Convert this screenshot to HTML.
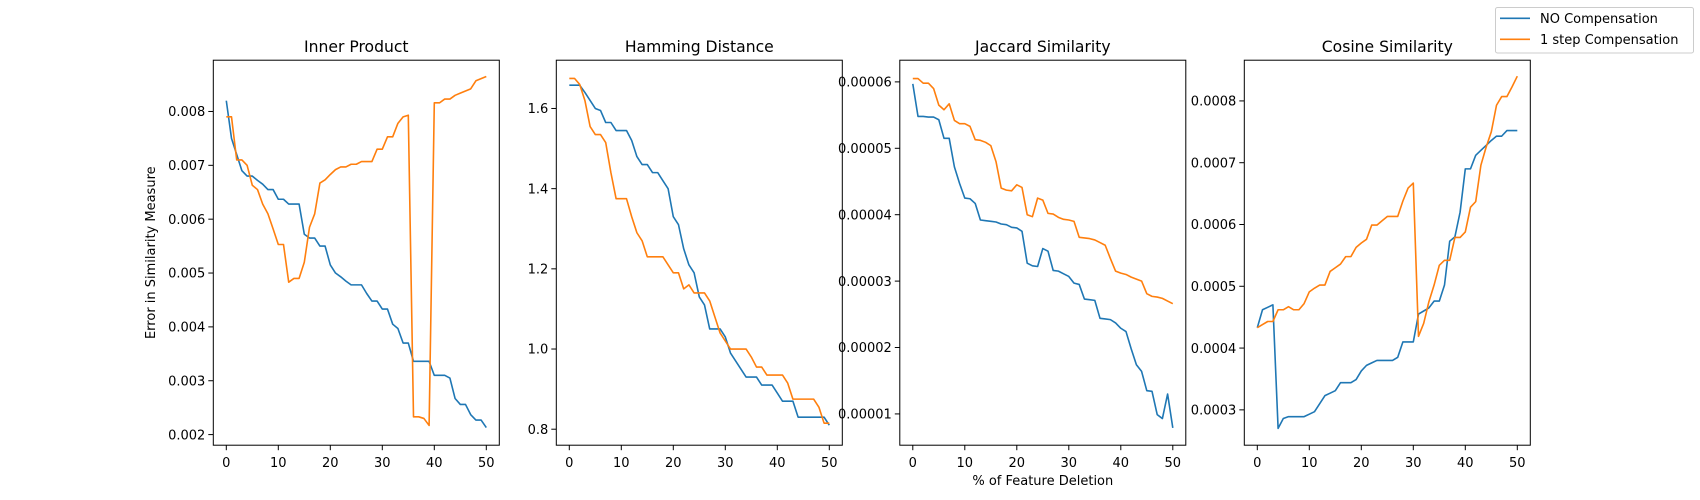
<!DOCTYPE html>
<html><head><meta charset="utf-8"><style>
html,body{margin:0;padding:0;background:#fff;}
svg{display:block;font-family:"DejaVu Sans","Liberation Sans",sans-serif;}
</style></head><body>
<svg id="chart" width="1700" height="500" viewBox="0 0 1700 500" xmlns="http://www.w3.org/2000/svg"></svg>
<script>
const xs = Array.from({length:51},(_,i)=>i);
const xTicks = [0,10,20,30,40,50];
const titles = ["Inner Product","Hamming Distance","Jaccard Similarity","Cosine Similarity"];
const ipBlue = [.0082,.0075,.0072,.0069,.0068,.0068,.00672,.00665,.00655,.00655,.00637,.00637,.00628,.00628,.00628,.00572,.00565,.00565,.0055,.0055,.00515,.005,.00493,.00485,.00478,.00478,.00478,.00462,.00448,.00448,.00433,.00433,.00405,.00397,.0037,.0037,.00336,.00336,.00336,.00336,.0031,.0031,.0031,.00305,.00267,.00256,.00256,.00237,.00227,.00227,.00213];
const ipOrange = [.0079,.0079,.0071,.0071,.0070,.00663,.00655,.00628,.0061,.00582,.00553,.00553,.00483,.0049,.0049,.0052,.00585,.0061,.00667,.00673,.00683,.00692,.00697,.00697,.00702,.00702,.00707,.00707,.00707,.0073,.0073,.00753,.00753,.00778,.0079,.00793,.00233,.00233,.0023,.00217,.00816,.00816,.00823,.00823,.0083,.00834,.00838,.00842,.00857,.00861,.00865];
const hdBlue = [1.658,1.658,1.658,1.64,1.62,1.60,1.595,1.565,1.565,1.545,1.545,1.545,1.52,1.48,1.46,1.46,1.44,1.44,1.42,1.40,1.33,1.31,1.25,1.21,1.19,1.13,1.11,1.05,1.05,1.05,1.03,0.99,0.97,0.95,0.93,0.93,0.93,0.91,0.91,0.91,0.89,0.87,0.87,0.87,0.83,0.83,0.83,0.83,0.83,0.83,0.81];
const hdOrange = [1.675,1.675,1.66,1.62,1.555,1.535,1.535,1.515,1.44,1.375,1.375,1.375,1.33,1.29,1.27,1.23,1.23,1.23,1.23,1.21,1.19,1.19,1.15,1.16,1.14,1.14,1.14,1.12,1.08,1.04,1.02,1.0,1.0,1.0,1.0,0.98,0.955,0.955,0.935,0.935,0.935,0.935,0.915,0.875,0.875,0.875,0.875,0.875,0.855,0.815,0.815];
const jsBlue = [5.97,5.48,5.48,5.47,5.47,5.43,5.15,5.15,4.72,4.47,4.25,4.24,4.17,3.92,3.91,3.9,3.89,3.86,3.85,3.81,3.8,3.75,3.27,3.23,3.22,3.49,3.45,3.16,3.15,3.11,3.07,2.97,2.95,2.73,2.72,2.71,2.44,2.43,2.42,2.37,2.29,2.24,1.98,1.74,1.64,1.35,1.34,0.99,0.93,1.3,0.79].map(v=>v*1e-5);
const jsOrange = [6.05,6.05,5.98,5.98,5.9,5.65,5.58,5.67,5.42,5.37,5.37,5.33,5.13,5.12,5.09,5.04,4.8,4.4,4.37,4.36,4.45,4.41,4.0,3.97,4.25,4.22,4.02,4.01,3.96,3.93,3.92,3.9,3.66,3.65,3.64,3.62,3.58,3.54,3.34,3.15,3.12,3.1,3.06,3.03,3.0,2.81,2.77,2.76,2.74,2.7,2.66].map(v=>v*1e-5);
const csBlue = [4.33,4.62,4.66,4.7,2.7,2.86,2.89,2.89,2.89,2.89,2.93,2.97,3.1,3.23,3.27,3.31,3.44,3.44,3.44,3.49,3.63,3.72,3.76,3.8,3.8,3.8,3.8,3.85,4.1,4.1,4.1,4.55,4.6,4.65,4.76,4.76,5.02,5.73,5.8,6.2,6.9,6.9,7.12,7.2,7.28,7.36,7.43,7.43,7.52,7.52,7.52].map(v=>v*1e-4);
const csOrange = [4.33,4.38,4.43,4.43,4.62,4.62,4.67,4.62,4.62,4.72,4.91,4.97,5.02,5.02,5.24,5.3,5.36,5.48,5.48,5.63,5.7,5.76,5.99,5.99,6.06,6.13,6.13,6.13,6.38,6.59,6.67,4.19,4.4,4.75,5.02,5.34,5.42,5.42,5.79,5.79,5.88,6.28,6.37,6.96,7.25,7.5,7.93,8.07,8.07,8.23,8.4].map(v=>v*1e-4);
const ipTicks = [0.002,0.003,0.004,0.005,0.006,0.007,0.008];
const ipTickLabels = ["0.002","0.003","0.004","0.005","0.006","0.007","0.008"];
const hdTicks = [0.8,1.0,1.2,1.4,1.6];
const hdTickLabels = ["0.8","1.0","1.2","1.4","1.6"];
const jsTicks = [1e-5,2e-5,3e-5,4e-5,5e-5,6e-5];
const jsTickLabels = ["0.00001","0.00002","0.00003","0.00004","0.00005","0.00006"];
const csTicks = [3e-4,4e-4,5e-4,6e-4,7e-4,8e-4];
const csTickLabels = ["0.0003","0.0004","0.0005","0.0006","0.0007","0.0008"];

const NS="http://www.w3.org/2000/svg";
const svg=document.getElementById('chart');
function mk(tag,attrs,parent){const e=document.createElementNS(NS,tag);for(const k in attrs)e.setAttribute(k,attrs[k]);(parent||svg).appendChild(e);return e;}
const panels=[
 {left:213.3,title:titles[0],blue:ipBlue,orange:ipOrange,ymin:0.001803,ymax:0.008952,ticks:ipTicks,labels:ipTickLabels,name:'inner-product'},
 {left:556.3,title:titles[1],blue:hdBlue,orange:hdOrange,ymin:0.7601,ymax:1.7204,ticks:hdTicks,labels:hdTickLabels,name:'hamming-distance'},
 {left:899.8,title:titles[2],blue:jsBlue,orange:jsOrange,ymin:0.529e-5,ymax:6.3265e-5,ticks:jsTicks,labels:jsTickLabels,name:'jaccard-similarity'},
 {left:1244.3,title:titles[3],blue:csBlue,orange:csOrange,ymin:0.0002428,ymax:0.0008659,ticks:csTicks,labels:csTickLabels,name:'cosine-similarity'}
];
const W=286,TOP=60.2,BOT=445.2;
panels.forEach(p=>{
 const g=mk('g',{});
 
 
 const xS=v=>p.left+W*(0.5+v*5.2)/(W) ;
 const X=v=>p.left+13+v*5.2;
 const Y=v=>BOT-(v-p.ymin)/(p.ymax-p.ymin)*(BOT-TOP);
 // series
 [['blue','#1f77b4'],['orange','#ff7f0e']].forEach(([k,c])=>{
  const d=p[k].map((v,i)=>(i?'L':'M')+X(xs[i]).toFixed(2)+' '+Y(v).toFixed(2)).join(' ');
  const path=mk('path',{d:d,fill:'none',stroke:c,'stroke-width':1.6,'stroke-linejoin':'round'},g);
  
  
 });
 const fr=mk('rect',{x:p.left,y:TOP,width:W,height:BOT-TOP,fill:'none',stroke:'#000','stroke-width':1},g);
 
 
 xTicks.forEach(t=>{
  const x=X(t);
  mk('line',{x1:x,y1:BOT,x2:x,y2:BOT+5,stroke:'#000','stroke-width':1},g);
  const tx=mk('text',{x:x,y:467,'font-size':13,'text-anchor':'middle',fill:'#000'},g);
  tx.textContent=t;
  
  
 });
 p.ticks.forEach((t,i)=>{
  const y=Y(t);
  mk('line',{x1:p.left-5,y1:y,x2:p.left,y2:y,stroke:'#000','stroke-width':1},g);
  const tx=mk('text',{x:p.left-8,y:y+4.7,'font-size':13,'text-anchor':'end',fill:'#000'},g);
  tx.textContent=p.labels[i];
  
  
 });
 const tt=mk('text',{x:p.left+W/2,y:52,'font-size':15.6,'text-anchor':'middle',fill:'#000'},g);
 tt.textContent=p.title;
 
 
});
const yl=mk('text',{x:0,y:0,'font-size':13,'text-anchor':'middle',fill:'#000',transform:'translate(155,252.7) rotate(-90)'});
yl.textContent='Error in Similarity Measure';


const xl=mk('text',{x:1042.8,y:485,'font-size':13,'text-anchor':'middle',fill:'#000'});
xl.textContent='% of Feature Deletion';


// legend
const lg=mk('g',{});


mk('rect',{x:1495.5,y:7.5,width:198,height:45.5,rx:2,fill:'#fff',stroke:'#ccc','stroke-width':1},lg);
[['NO Compensation','#1f77b4',18.3],['1 step Compensation','#ff7f0e',39.3]].forEach(([t,c,y])=>{
 const e=mk('g',{},lg);
 
 
 mk('line',{x1:1500,y1:y,x2:1530,y2:y,stroke:c,'stroke-width':1.6},e);
 const tx=mk('text',{x:1540,y:y+4.6,'font-size':13,fill:'#000'},e);
 tx.textContent=t;
});
</script>
</body></html>
